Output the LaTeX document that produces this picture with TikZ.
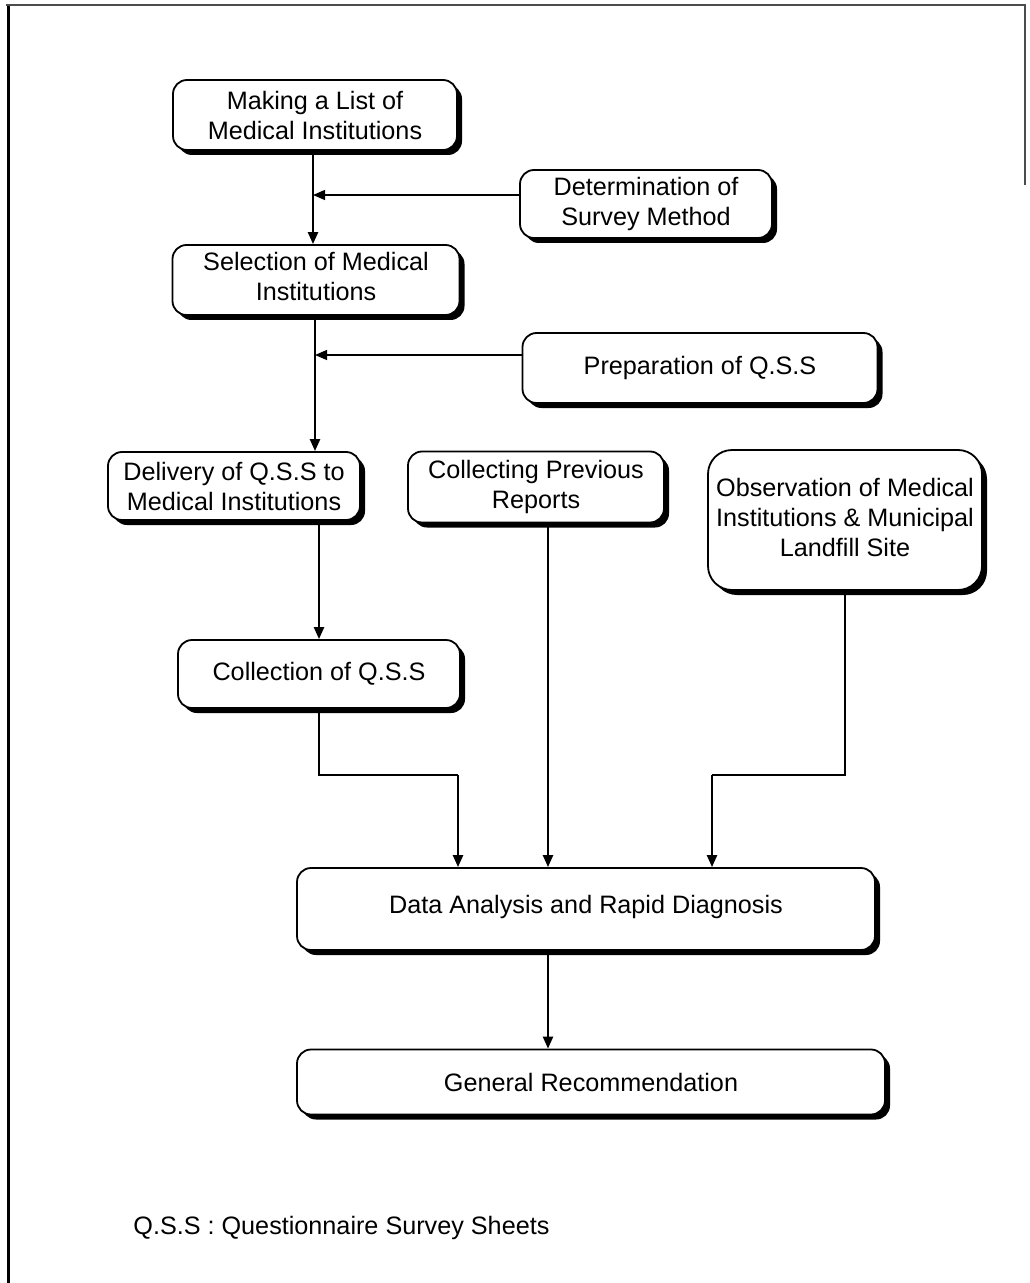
\documentclass[tikz,border=0pt]{standalone}
\usepackage{fontspec}
\setmainfont{Liberation Sans}
\usetikzlibrary{shadows,arrows.meta}

\begin{document}
\begin{tikzpicture}[x=0.5pt,y=-0.5pt,
  font=\fontsize{12.6}{15}\selectfont,
  stepbox/.style={draw=black,line width=0.9pt,fill=white,rounded corners=7pt,
    align=center,inner sep=2pt,
    drop shadow={shadow xshift=2.5pt,shadow yshift=-2.5pt,fill=black,opacity=1}},
  flow/.style={line width=1.2pt,-{Triangle[length=6pt,width=5pt]}},
  feed/.style={line width=0.6pt,-{Triangle[length=6pt,width=5pt]}},
  link/.style={line width=1.2pt}]

\useasboundingbox (0,0) rectangle (1029,1283);

% page frame
\draw[line width=1.5pt] (8,6) -- (8,1283);
\draw[line width=0.6pt,black!70] (6,5) -- (1025,5) -- (1025,185);

% process boxes
\node[stepbox,minimum width=142pt,minimum height=35pt] (mk) at (315,115)
  {Making a List of\\Medical Institutions};
\node[stepbox,minimum width=126pt,minimum height=34pt] (det) at (646,204)
  {Determination of\\Survey Method};
\node[stepbox,minimum width=143.5pt,minimum height=35pt] (sel) at (316,280)
  {\raisebox{2pt}{\begin{tabular}{@{}c@{}}Selection of Medical\\Institutions\end{tabular}}};
\node[stepbox,minimum width=177.5pt,minimum height=35pt] (prep) at (700,368)
  {Preparation of Q.S.S};
\node[stepbox,minimum width=126pt,minimum height=34pt] (del) at (234,486)
  {Delivery of Q.S.S to\\Medical Institutions};
\node[stepbox,minimum width=128pt,minimum height=35.5pt] (prev) at (536,487)
  {Collecting Previous\\Reports};
\node[stepbox,rounded corners=12pt,minimum width=137pt,minimum height=70pt] (obs) at (845,520)
  {\raisebox{1.5pt}{\begin{tabular}{@{}c@{}}Observation of Medical\\Institutions \& Municipal\\Landfill Site\end{tabular}}};
\node[stepbox,minimum width=141pt,minimum height=34pt] (col) at (319,674)
  {Collection of Q.S.S};
\node[stepbox,minimum width=289pt,minimum height=41pt] (data) at (586,909)
  {\raisebox{5pt}{Data Analysis and Rapid Diagnosis}};
\node[stepbox,minimum width=294pt,minimum height=32.5pt] (gen) at (591,1082)
  {General Recommendation};

% junction points on the connectors
\coordinate (j1) at (313,195);
\coordinate (j2) at (315,355);
\coordinate (m1) at (458,775);
\coordinate (m2) at (548,775);
\coordinate (m3) at (712,775);

% main sequence
\draw[flow] (mk.south -| j1) -- (j1 |- sel.north);
\draw[feed] (det.west |- j1) -- (j1);
\draw[flow] (sel.south -| j2) -- (j2 |- del.north);
\draw[feed] (prep.west |- j2) -- (j2);
\draw[flow] (col.north |- del.south) -- (col.north);

% inputs to the analysis
\draw[link] (col.south) |- (m1);
\draw[flow] (m1) -- (m1 |- data.north);
\draw[flow] (prev.south -| m2) -- (m2 |- data.north);
\draw[link] (obs.south) |- (m3);
\draw[flow] (m3) -- (m3 |- data.north);
\draw[flow] (data.south -| m2) -- (m2 |- gen.north);

% abbreviation note
\node[anchor=west,inner sep=0pt] (note) at (133,1228) {Q.S.S : Questionnaire Survey Sheets};
\end{tikzpicture}
\end{document}
